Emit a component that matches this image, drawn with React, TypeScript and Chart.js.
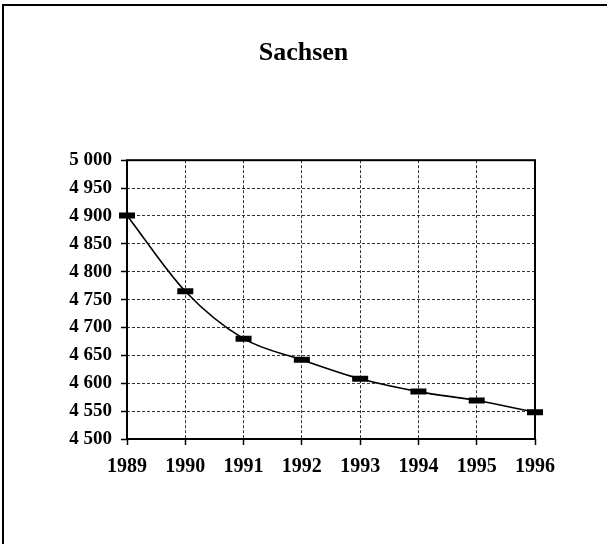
import React, { useEffect, useRef } from "react";
import { Chart, registerables } from "chart.js";

Chart.register(...registerables);

const TITLE = "Sachsen";
const years = ["1989", "1990", "1991", "1992", "1993", "1994", "1995", "1996"];
const population = [4901, 4765, 4680, 4642, 4608, 4585, 4569, 4548];
const yMin = 4500;
const yMax = 5000;
const yStep = 50;

const SERIF = "'Liberation Serif', 'Times New Roman', serif";

const fmt = (v: number) => String(v).replace(/\B(?=(\d{3})+(?!\d))/g, " ");

const framePlugin = {
  id: "frame",
  beforeDatasetsDraw(chart: any) {
    const { ctx, chartArea } = chart;
    ctx.save();
    ctx.strokeStyle = "#000";
    ctx.lineWidth = 2;
    ctx.strokeRect(chartArea.left, chartArea.top, chartArea.right - chartArea.left, chartArea.bottom - chartArea.top);
    ctx.restore();
  },
};

export default function App() {
  const ref = useRef<HTMLCanvasElement | null>(null);

  useEffect(() => {
    if (!ref.current) return;
    const chart = new Chart(ref.current, {
      type: "line",
      data: {
        labels: years,
        datasets: [
          {
            data: population,
            borderColor: "#000",
            borderWidth: 1.6,
            cubicInterpolationMode: "monotone",
            pointStyle: "line",
            pointRadius: 8,
            pointBorderWidth: 6,
            pointBorderColor: "#000",
            pointBackgroundColor: "#000",
            fill: false,
          },
        ],
      },
      options: {
        responsive: false,
        animation: false,
        layout: { padding: { left: 0, right: 0, top: 0, bottom: 45 } },
        plugins: {
          legend: { display: false },
          tooltip: { enabled: false },
          title: {
            display: true,
            text: TITLE,
            color: "#000",
            font: { family: SERIF, size: 26, weight: "bold" },
            padding: { top: 38, bottom: 91 },
          },
        },
        scales: {
          x: {
            type: "category",
            offset: false,
            border: { display: false, dash: [3, 2] },
            grid: {
              color: "#333",
              lineWidth: 1,
              drawTicks: true,
              tickLength: 6,
              tickColor: "#000",
              tickWidth: 1.5,
            },
            ticks: {
              color: "#000",
              font: { family: SERIF, size: 20, weight: "bold" },
              padding: 10,
              maxRotation: 0,
              autoSkip: false,
            },
            afterFit(scale: any) {
              scale.height = 60;
              scale.paddingLeft = 0;
              scale.paddingRight = 72;
            },
          },
          y: {
            min: yMin,
            max: yMax,
            border: { display: false, dash: [3, 2] },
            grid: {
              color: "#333",
              lineWidth: 1,
              drawTicks: true,
              tickLength: 6,
              tickColor: "#000",
              tickWidth: 1.5,
            },
            ticks: {
              stepSize: yStep,
              color: "#000",
              font: { family: SERIF, size: 19, weight: "bold" },
              padding: 9,
              callback: (v: any) => fmt(Number(v)),
            },
            afterFit(scale: any) {
              scale.width = 127;
              scale.paddingTop = 0;
              scale.paddingBottom = 0;
            },
          },
        },
      },
      plugins: [framePlugin],
    });
    return () => chart.destroy();
  }, []);

  return (
    <div style={{ position: "fixed", left: 0, top: 0, width: 607, height: 544, background: "#fff" }}>
      <canvas ref={ref} width={607} height={544} style={{ position: "absolute", left: 0, top: 0 }} />
      <div
        style={{
          position: "absolute",
          left: 2,
          top: 4,
          right: -10,
          bottom: -10,
          borderLeft: "2px solid #000",
          borderTop: "2px solid #000",
          pointerEvents: "none",
        }}
      />
    </div>
  );
}
